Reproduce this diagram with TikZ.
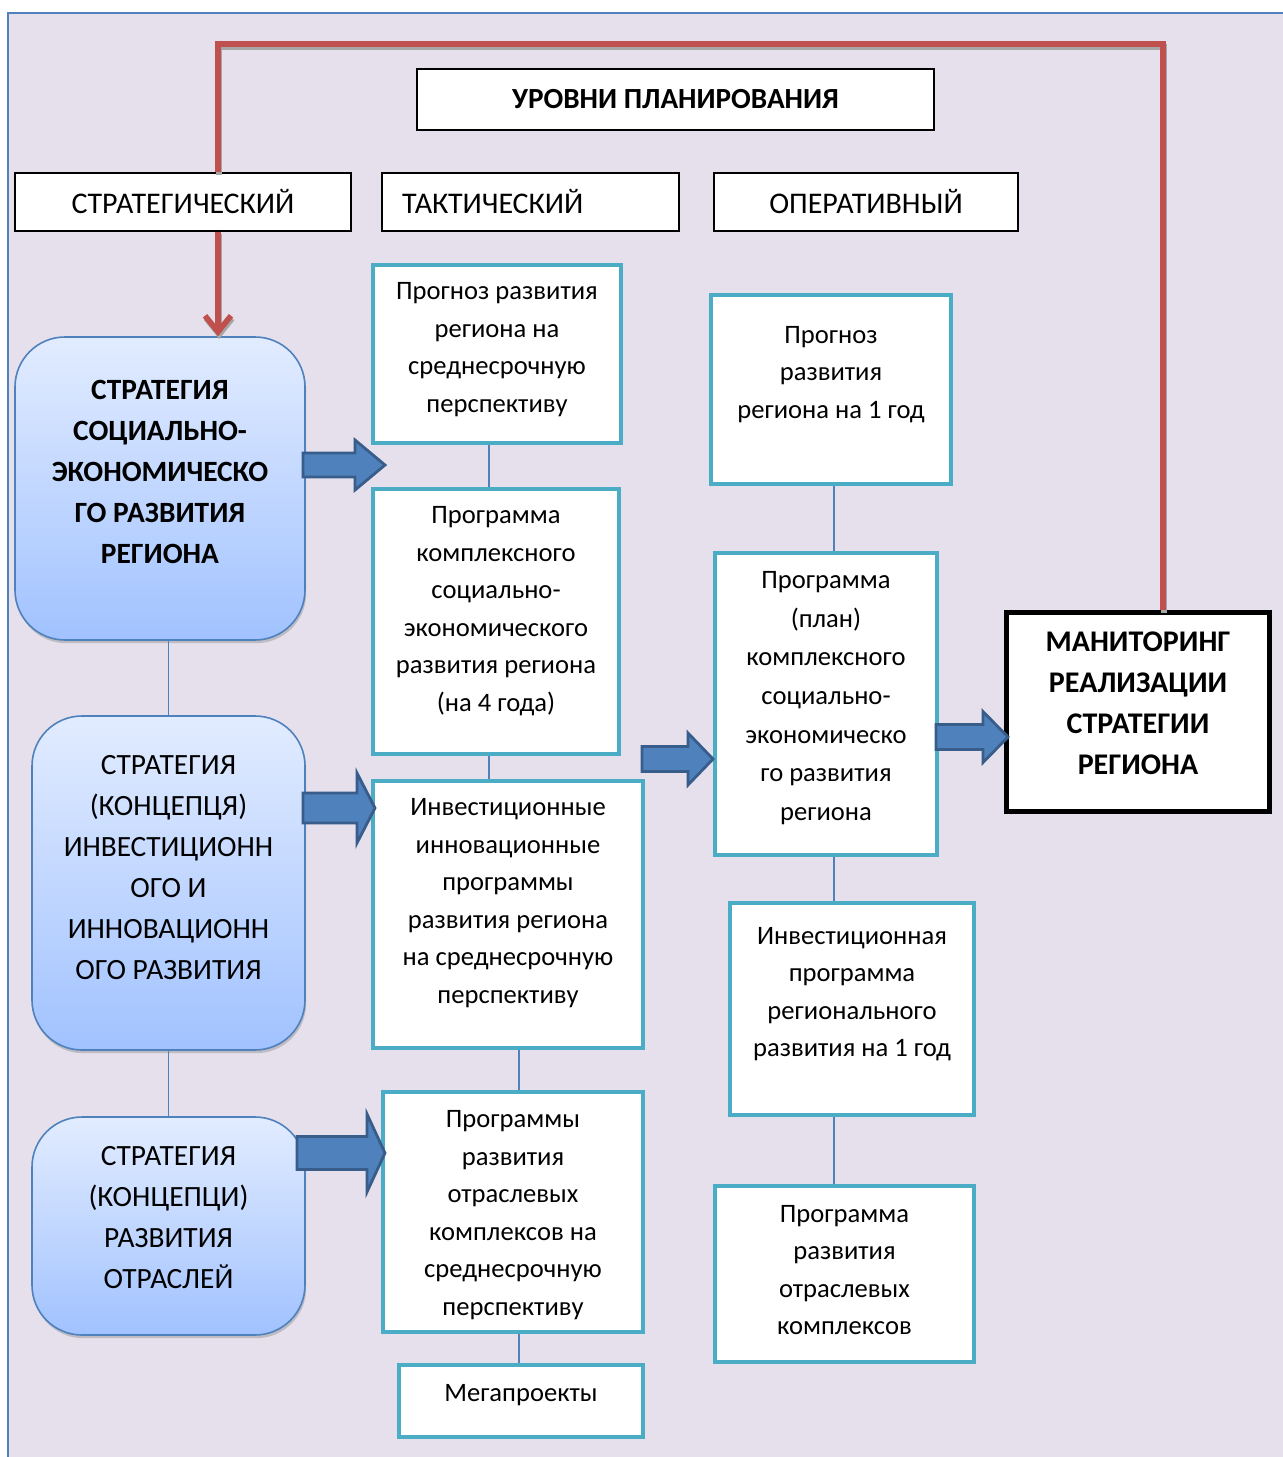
\documentclass[tikz,border=0pt]{standalone}
\usepackage{fontspec}
\setmainfont{Carlito}
\usetikzlibrary{arrows.meta,shadows}

\definecolor{lavender}{RGB}{229,224,236}
\definecolor{frameblue}{RGB}{79,129,189}
\definecolor{boxteal}{RGB}{75,172,198}
\definecolor{redline}{RGB}{192,80,77}
\definecolor{arrowedge}{RGB}{56,93,138}
\definecolor{stratop}{RGB}{226,236,255}
\definecolor{stratbot}{RGB}{161,194,255}

\tikzset{
  levelbox/.style={draw=black, line width=0.6pt, fill=white, inner sep=0pt,
    font=\fontsize{15}{18}\selectfont},
  stratbox/.style={draw=frameblue, line width=0.8pt, rounded corners=25pt,
    top color=stratop, bottom color=stratbot,
    drop shadow={shadow xshift=0.6pt, shadow yshift=-1.6pt, fill=black!40}},
  planbox/.style={draw=boxteal, line width=2.2pt, fill=white},
  plantext/.style={align=center, font=\fontsize{13.3}{18.75}\selectfont},
  strattext/.style={align=center, font=\fontsize{14.7}{20.5}\selectfont},
  boldtext/.style={align=center, font=\bfseries\fontsize{14.7}{20.5}\selectfont},
  link/.style={draw=frameblue, line width=0.6pt},
  feedback/.style={draw=redline, line width=2.8pt,
    preaction={draw=black!35, line width=2.8pt, transform canvas={shift={(0.6pt,-1.4pt)}}}},
  pics/blockarrow/.style n args={4}{code={
    \draw[draw=arrowedge, fill=frameblue, line width=1.4pt, line join=miter]
      (0,-#2) -- (#1-#4,-#2) -- (#1-#4,-#3) -- (#1,0) -- (#1-#4,#3) -- (#1-#4,#2) -- (0,#2) -- cycle;}}
}

\begin{document}
\begin{tikzpicture}[x=0.5pt,y=-0.5pt]
\useasboundingbox (0,0) rectangle (1282,1457);
\fill[white] (0,0) rectangle (1282,1457);
\filldraw[fill=lavender, draw=frameblue, line width=0.8pt] (8,13) rectangle (1300,1480);

% levels
\node[levelbox, font=\bfseries\fontsize{14.6}{17}\selectfont, minimum width=258.5pt, minimum height=30.5pt] (title) at (675.5,99.5) {УРОВНИ ПЛАНИРОВАНИЯ};
\node[levelbox, minimum width=168pt, minimum height=29pt] (strat) at (183,202) {СТРАТЕГИЧЕСКИЙ};
\node[levelbox, minimum width=148.5pt, minimum height=29pt, text width=128.5pt, align=left] (tact) at (530.5,202) {ТАКТИЧЕСКИЙ};
\node[levelbox, minimum width=152pt, minimum height=29pt] (oper) at (866,202) {ОПЕРАТИВНЫЙ};

% strategic column
\node[stratbox, minimum width=145pt, minimum height=151.5pt,
  label={[boldtext, yshift=8.25pt]center:{СТРАТЕГИЯ\\СОЦИАЛЬНО-\\ЭКОНОМИЧЕСКО\\ГО РАЗВИТИЯ\\РЕГИОНА}}] (s1) at (160,488.5) {};
\node[stratbox, minimum width=136.5pt, minimum height=167pt,
  label={[strattext, yshift=7.5pt]center:{СТРАТЕГИЯ\\(КОНЦЕПЦЯ)\\ИНВЕСТИЦИОНН\\ОГО И\\ИННОВАЦИОНН\\ОГО РАЗВИТИЯ}}] (s2) at (168.5,883) {};
\node[stratbox, minimum width=136.5pt, minimum height=109pt,
  label={[strattext, yshift=4pt]center:{СТРАТЕГИЯ\\(КОНЦЕПЦИ)\\РАЗВИТИЯ\\ОТРАСЛЕЙ}}] (s3) at (168.5,1226) {};

% tactical column
\node[planbox, minimum width=124pt, minimum height=89pt,
  label={[plantext, yshift=2.25pt]center:{Прогноз развития\\региона на\\среднесрочную\\перспективу}}] (t1) at (497,354) {};
\node[planbox, minimum width=123pt, minimum height=132.5pt,
  label={[plantext, yshift=5.25pt]center:{Программа\\комплексного\\социально-\\экономического\\развития региона\\(на 4 года)}}] (t2) at (496,621.5) {};
\node[planbox, minimum width=135pt, minimum height=133.5pt,
  label={[plantext, yshift=5.75pt]center:{Инвестиционные\\инновационные\\программы\\развития региона\\на среднесрочную\\перспективу}}] (t3) at (508,914.5) {};
\node[planbox, minimum width=130pt, minimum height=120pt,
  label={[plantext, yshift=-1.5pt]center:{Программы\\развития\\отраслевых\\комплексов на\\среднесрочную\\перспективу}}] (t4) at (513,1212) {};
\node[planbox, minimum width=122pt, minimum height=36pt,
  label={[plantext, yshift=3pt]center:{Мегапроекты}}] (t5) at (521,1401) {};

% operational column
\node[planbox, minimum width=120pt, minimum height=94.5pt,
  label={[plantext, yshift=7.5pt]center:{Прогноз\\развития\\региона на 1 год}}] (o1) at (831,389.5) {};
\node[planbox, minimum width=111pt, minimum height=151pt,
  label={[plantext, font=\fontsize{13.3}{19.3}\selectfont, yshift=3pt]center:{Программа\\(план)\\комплексного\\социально-\\экономическо\\го развития\\региона}}] (o2) at (826,704) {};
\node[planbox, minimum width=122pt, minimum height=106pt,
  label={[plantext, yshift=7.5pt]center:{Инвестиционная\\программа\\регионального\\развития на 1 год}}] (o3) at (852,1009) {};
\node[planbox, minimum width=129.5pt, minimum height=88pt,
  label={[plantext, yshift=2pt]center:{Программа\\развития\\отраслевых\\комплексов}}] (o4) at (844.5,1274) {};

% monitoring
\node[draw=black, line width=2.6pt, fill=white, minimum width=131.5pt, minimum height=99.5pt,
  label={[boldtext, font=\bfseries\fontsize{15}{20.5}\selectfont, yshift=4.5pt]center:{МАНИТОРИНГ\\РЕАЛИЗАЦИИ\\СТРАТЕГИИ\\РЕГИОНА}}] (m) at (1138,712) {};

% thin links
\draw[link] (s2.north |- s1.south) -- (s2.north);
\draw[link] (s2.south) -- (s3.north);
\draw[link] (489,0 |- t1.south) -- (489,0 |- t2.north);
\draw[link] (489,0 |- t2.south) -- (489,0 |- t3.north);
\draw[link] (519,0 |- t3.south) -- (519,0 |- t4.north);
\draw[link] (519,0 |- t4.south) -- (519,0 |- t5.north);
\draw[link] (834,0 |- o1.south) -- (834,0 |- o2.north);
\draw[link] (834,0 |- o2.south) -- (834,0 |- o3.north);
\draw[link] (834,0 |- o3.south) -- (834,0 |- o4.north);

% red feedback loop
\draw[feedback] (strat.north -| 218,0) -- (218,44) -| (m.north -| 1163,0);
\draw[feedback, -{Straight Barb[length=8pt,width=13pt]}] (strat.south -| 218,0) -- (s1.north -| 218,0);

% block arrows
\pic at (303,465) {blockarrow={82}{12}{25}{30}};
\pic at (303,808) {blockarrow={72}{15}{35}{18}};
\pic at (297,1153) {blockarrow={88}{16.5}{39}{18}};
\pic at (642,759) {blockarrow={71}{12.5}{26}{25}};
\pic at (936,737) {blockarrow={72}{12.5}{25.5}{25}};
\end{tikzpicture}
\end{document}
